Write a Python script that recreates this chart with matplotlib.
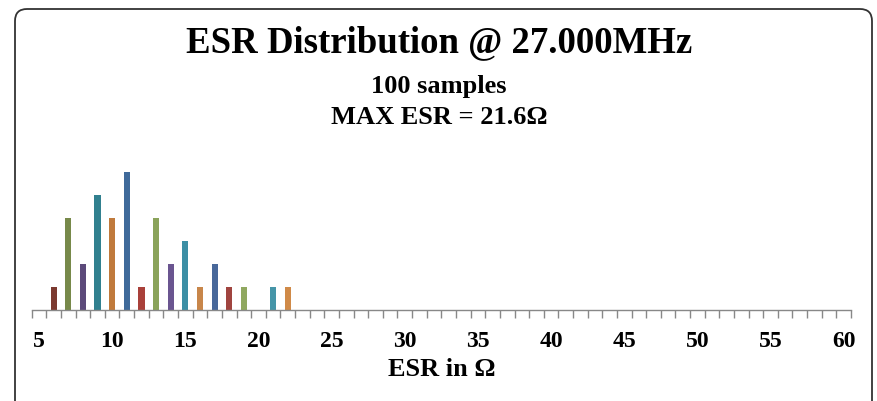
import matplotlib
matplotlib.use("Agg")
import matplotlib.pyplot as plt
from matplotlib.patches import FancyBboxPatch

# ESR histogram values
esr = [6, 7, 8, 9, 10, 11, 12, 13, 14, 15, 16, 17, 18, 19, 21, 22]
counts = [1, 4, 2, 5, 4, 6, 1, 4, 2, 3, 1, 2, 1, 1, 1, 1]
colors = ["#7B3A30", "#77894A", "#5C4A7A", "#31808F", "#C07A3C", "#3F6A9A",
          "#A9403A", "#8AA35A", "#6A5590", "#3C8FA5", "#C8864A", "#48689A",
          "#A0443F", "#90A860", "#4595A8", "#D08A48"]
tick_labels = list(range(5, 61, 5))

plt.rcParams['font.family'] = ['Liberation Serif', 'DejaVu Serif']

fig = plt.figure(figsize=(8.78, 4.02), dpi=100)
W, H = 878, 402

# rounded frame around the chart (pixel coordinates)
frame = FancyBboxPatch((15, -30), 857, 422,
                       boxstyle="round,pad=0,rounding_size=12",
                       transform=None, fill=False,
                       edgecolor="#333333", linewidth=1.3)
fig.patches.append(frame)

ax = fig.add_axes([31.7 / W, 1 - 310.5 / H, (851 - 31.7) / W, (310.5 - 173) / H])
ax.bar(esr, counts, width=0.42, color=colors)
ax.set_xlim(4.5, 60.5)
ax.set_ylim(0, 6)

for s in ["top", "right", "left"]:
    ax.spines[s].set_visible(False)
ax.spines["bottom"].set_color("#888888")
ax.spines["bottom"].set_linewidth(1.0)
ax.set_yticks([])

ax.set_xticks([x + 0.5 for x in range(4, 61)], minor=True)
ax.set_xticks(tick_labels)
ax.set_xticklabels([str(t) for t in tick_labels], fontsize=17, fontweight="bold")
ax.tick_params(axis="x", which="major", length=0, pad=15)
ax.tick_params(axis="x", which="minor", length=6, color="#888888", width=1.0)
ax.set_xlabel("ESR in Ω", fontsize=19, fontweight="bold", labelpad=4)

fig.text(0.5, 1 - 43 / H, "ESR Distribution @ 27.000MHz", ha="center", va="center",
         fontsize=26.5, fontweight="bold")
fig.text(0.5, 1 - 86 / H, "100 samples", ha="center", va="center",
         fontsize=19, fontweight="bold")
fig.text(0.5, 1 - 118 / H, "MAX ESR = 21.6Ω", ha="center", va="center",
         fontsize=19, fontweight="bold")

fig.savefig("out.png", dpi=100)
